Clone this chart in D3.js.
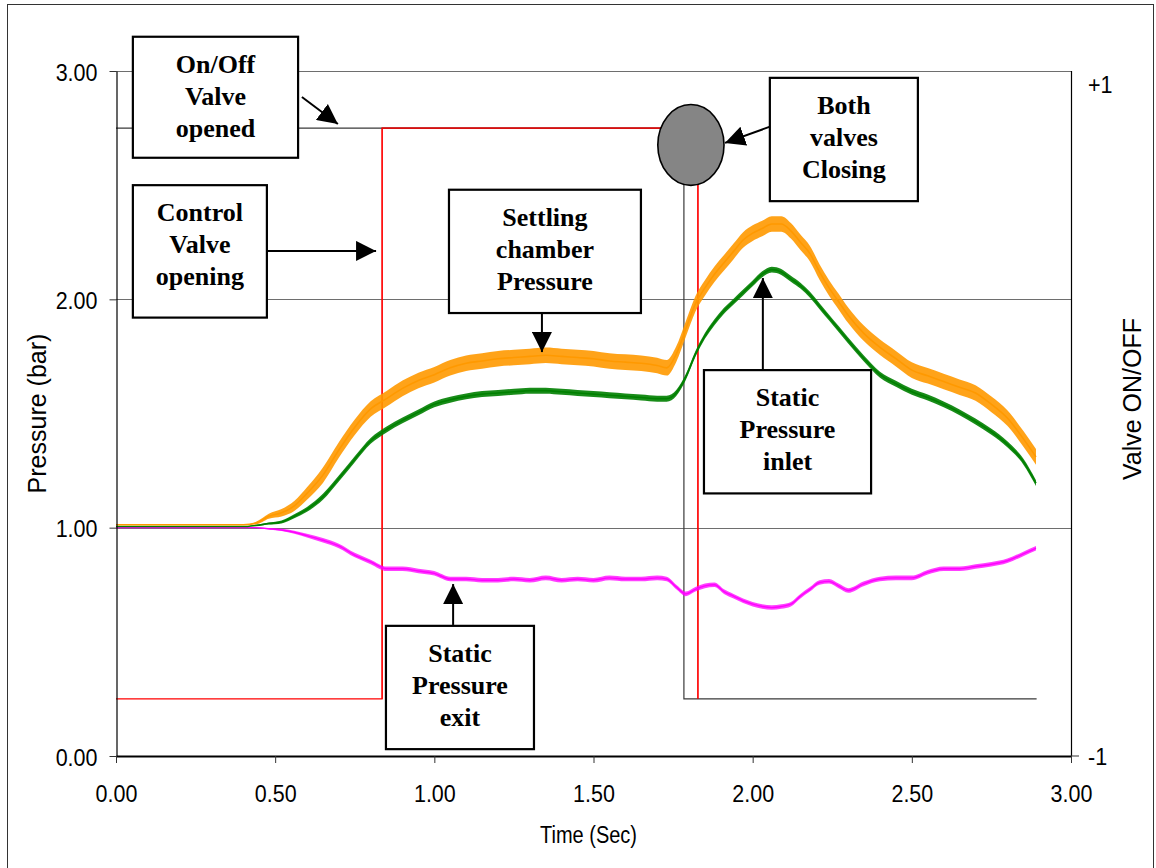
<!DOCTYPE html>
<html>
<head>
<meta charset="utf-8">
<script src="https://cdn.jsdelivr.net/npm/d3@7"></script>
<style>
  html, body { margin: 0; padding: 0; background: #fff; }
  svg { display: block; }
</style>
</head>
<body>
<svg id="chart" width="1156" height="868"></svg>
<script>
// Time base (s) shared by the three pressure traces
const TIME = [0, 0.10, 0.20, 0.30, 0.40, 0.44, 0.48, 0.52, 0.56, 0.60, 0.65, 0.70, 0.75, 0.80, 0.85,
  0.90, 0.95, 1.00, 1.05, 1.10, 1.15, 1.20, 1.25, 1.30, 1.35, 1.40, 1.45, 1.50, 1.55, 1.60, 1.65,
  1.70, 1.73, 1.76, 1.79, 1.82, 1.85, 1.88, 1.91, 1.94, 1.97, 2.00, 2.03, 2.06, 2.09, 2.12, 2.15,
  2.18, 2.21, 2.24, 2.27, 2.30, 2.35, 2.40, 2.45, 2.50, 2.55, 2.60, 2.65, 2.70, 2.75, 2.80, 2.85, 2.89];

// Settling chamber pressure (bar), orange
const SETTLING = [1.013, 1.013, 1.013, 1.013, 1.013, 1.02, 1.05, 1.065, 1.095, 1.15, 1.23, 1.34, 1.44, 1.52, 1.565,
  1.61, 1.645, 1.67, 1.70, 1.72, 1.73, 1.74, 1.745, 1.75, 1.755, 1.75, 1.745, 1.74, 1.73, 1.725, 1.72,
  1.71, 1.70, 1.76, 1.87, 1.98, 2.05, 2.11, 2.16, 2.21, 2.26, 2.29, 2.31, 2.33, 2.33, 2.30, 2.25,
  2.20, 2.12, 2.05, 1.99, 1.93, 1.85, 1.79, 1.74, 1.69, 1.665, 1.64, 1.615, 1.59, 1.54, 1.48, 1.39, 1.31];

// Static pressure inlet (bar), green
const INLET = [1.005, 1.005, 1.005, 1.005, 1.005, 1.01, 1.018, 1.025, 1.05, 1.08, 1.135, 1.215, 1.30, 1.38, 1.43,
  1.47, 1.505, 1.54, 1.56, 1.575, 1.585, 1.59, 1.595, 1.60, 1.60, 1.595, 1.59, 1.585, 1.58, 1.575, 1.57,
  1.565, 1.565, 1.59, 1.66, 1.76, 1.84, 1.90, 1.95, 1.99, 2.03, 2.07, 2.11, 2.13, 2.12, 2.09, 2.06,
  2.02, 1.97, 1.92, 1.87, 1.82, 1.74, 1.67, 1.63, 1.595, 1.57, 1.54, 1.505, 1.465, 1.42, 1.365, 1.29, 1.195];

// Static pressure exit (bar), magenta
const EXIT = [1.00, 1.00, 1.00, 1.00, 1.00, 1.00, 0.995, 0.99, 0.98, 0.965, 0.945, 0.92, 0.88, 0.85, 0.82,
  0.82, 0.81, 0.80, 0.775, 0.775, 0.77, 0.77, 0.775, 0.77, 0.78, 0.77, 0.775, 0.77, 0.78, 0.775, 0.775,
  0.78, 0.775, 0.74, 0.71, 0.73, 0.745, 0.75, 0.72, 0.70, 0.68, 0.665, 0.655, 0.65, 0.655, 0.665, 0.70,
  0.73, 0.76, 0.765, 0.745, 0.725, 0.755, 0.775, 0.78, 0.78, 0.805, 0.82, 0.82, 0.83, 0.84, 0.855, 0.885, 0.91];

// Valve signals on the secondary axis (+1 open, -1 closed)
const ONOFF_T = [0, 1.784, 1.784, 2.892];
const ONOFF_V = [1, 1, -1, -1];
const CONTROL_T = [0, 0.836, 0.836, 1.828, 1.828];
const CONTROL_V = [-1, -1, 1, 1, -1];

const X_TICKS = [0, 0.5, 1, 1.5, 2, 2.5, 3];
const Y_TICKS = [0, 1, 2, 3];
const Y2_LABELS = ['+1', '-1'];

// Annotation boxes in data units: [t0, t1, pTop, pBottom], lines of text
const NOTES = [
  { box: [0.053, 0.572, 3.15, 2.62], lines: ['On/Off', 'Valve', 'opened'] },
  { box: [0.053, 0.474, 2.50, 1.92], lines: ['Control', 'Valve', 'opening'] },
  { box: [1.046, 1.649, 2.48, 1.94], lines: ['Settling', 'chamber', 'Pressure'] },
  { box: [2.054, 2.519, 2.97, 2.43], lines: ['Both', 'valves', 'Closing'] },
  { box: [1.847, 2.372, 1.69, 1.15], lines: ['Static', 'Pressure', 'inlet'] },
  { box: [0.848, 1.313, 0.57, 0.03], lines: ['Static', 'Pressure', 'exit'] },
];
// Arrows in data units: [t0, p0, t1, p1]
const ARROWS = [
  [0.584, 2.886, 0.697, 2.768],
  [0.474, 2.212, 0.817, 2.212],
  [1.338, 1.940, 1.338, 1.769],
  [2.070, 2.764, 1.913, 2.685],
  [2.032, 1.686, 2.032, 2.093],
  [1.059, 0.574, 1.059, 0.753],
];
const CLOSING_MARK = { t: 1.806, p: 2.676, rt: 0.104, rp: 0.177 };

// ── Layout ──────────────────────────────────────────────────────────────────
const PLOT = { left: 116, right: 1071, top: 71, bottom: 756 };
const SANS = '"Liberation Sans", Arial, sans-serif';
const SERIF = '"Liberation Serif", "Times New Roman", serif';

const svg = d3.select('#chart');

const x = d3.scaleLinear().domain([0, 3]).range([PLOT.left, PLOT.right]);
const y = d3.scaleLinear().domain([0, 3]).range([PLOT.bottom, PLOT.top]);
const y2 = d3.scaleLinear().domain([-1.2, 1.2]).range([PLOT.bottom, PLOT.top]);

// outer frame
svg.append('rect')
  .attr('x', 7.5).attr('y', 4.5).attr('width', 1146).attr('height', 872)
  .attr('fill', 'none').attr('stroke', '#333').attr('stroke-width', 1);

// horizontal gridlines
svg.append('g').selectAll('line')
  .data(Y_TICKS.filter(d => d > 0))
  .join('line')
  .attr('x1', PLOT.left).attr('x2', PLOT.right)
  .attr('y1', d => Math.round(y(d)) + 0.5).attr('y2', d => Math.round(y(d)) + 0.5)
  .attr('stroke', '#6e6e6e').attr('stroke-width', 1);

// ── Valve signals ───────────────────────────────────────────────────────────
const stepLine = d3.line().x(d => x(d[0])).y(d => y2(d[1]));

svg.append('path')
  .datum(d3.zip(CONTROL_T, CONTROL_V))
  .attr('d', stepLine)
  .attr('fill', 'none').attr('stroke', '#ff0000').attr('stroke-width', 1.2);

svg.append('path')
  .datum(d3.zip(ONOFF_T, ONOFF_V))
  .attr('d', stepLine)
  .attr('fill', 'none').attr('stroke', '#3a3a3a').attr('stroke-width', 1.2);

// red segment is drawn again where it lies over the on/off line while high
svg.append('path')
  .datum(d3.zip(CONTROL_T, CONTROL_V).slice(1, 5))
  .attr('d', stepLine)
  .attr('fill', 'none').attr('stroke', '#ff0000').attr('stroke-width', 1.2);

// ── Pressure traces ─────────────────────────────────────────────────────────
const SERIES = [
  { values: EXIT, color: '#ff00ff', spread: 0.010, width: 1.4, opacity: 0.75 },
  { values: INLET, color: '#008000', spread: 0.013, width: 1.6, opacity: 0.9 },
  { values: SETTLING, color: '#ff9900', spread: 0.034, width: 1.6, opacity: 0.9 },
];

// noise only sets in once the flow starts
const ramp = t => (t < 0.44 ? 0 : Math.min(1, (t - 0.40) / 0.25));

SERIES.forEach(s => {
  const pts = TIME.map((t, i) => [t, s.values[i]]);
  const band = d3.area()
    .curve(d3.curveMonotoneX)
    .x(d => x(d[0]))
    .y0(d => y(d[1] - s.spread * ramp(d[0])))
    .y1(d => y(d[1] + s.spread * ramp(d[0])));
  svg.append('path')
    .datum(pts)
    .attr('d', band)
    .attr('fill', s.color).attr('fill-opacity', s.opacity);
  svg.append('path')
    .datum(pts)
    .attr('d', d3.line().curve(d3.curveMonotoneX).x(d => x(d[0])).y(d => y(d[1])))
    .attr('fill', 'none').attr('stroke', s.color).attr('stroke-width', s.width);
});

// ── Axes ────────────────────────────────────────────────────────────────────
const yAxisG = svg.append('g')
  .attr('transform', `translate(${PLOT.left + 0.5},0)`)
  .call(d3.axisLeft(y).tickValues(Y_TICKS).tickFormat(d3.format('.2f')).tickSize(7).tickSizeOuter(0));
yAxisG.select('.domain').attr('stroke', '#000').attr('stroke-width', 1.2);
yAxisG.selectAll('.tick line').attr('stroke', '#333');
yAxisG.selectAll('.tick text')
  .attr('x', null).attr('dy', null)
  .attr('text-anchor', 'end')
  .attr('transform', 'translate(-19,9) scale(1,1.15)')
  .style('font-family', SANS).style('font-size', '21.5px').attr('fill', '#000');

const xAxisG = svg.append('g')
  .attr('transform', `translate(0,${PLOT.bottom})`)
  .call(d3.axisBottom(x).tickValues(X_TICKS).tickFormat(d3.format('.2f')).tickSize(7).tickSizeOuter(0));
xAxisG.select('.domain').attr('stroke', '#000').attr('stroke-width', 2);
xAxisG.selectAll('.tick line').attr('stroke', '#333');
xAxisG.selectAll('.tick text')
  .attr('y', null).attr('dy', null)
  .attr('text-anchor', 'middle')
  .attr('transform', 'translate(0,46) scale(1,1.15)')
  .style('font-family', SANS).style('font-size', '21.5px').attr('fill', '#000');

// secondary axis
svg.append('line')
  .attr('x1', PLOT.right + 0.5).attr('x2', PLOT.right + 0.5)
  .attr('y1', PLOT.top).attr('y2', PLOT.bottom)
  .attr('stroke', '#000').attr('stroke-width', 1.2);
svg.append('line')
  .attr('x1', PLOT.right).attr('x2', PLOT.right + 8)
  .attr('y1', y2(-1.2)).attr('y2', y2(-1.2))
  .attr('stroke', '#333');
svg.append('g').selectAll('text')
  .data(Y2_LABELS)
  .join('text')
  .attr('transform', (d, i) => `translate(${PLOT.right + 17},${i === 0 ? y2(1.2) + 22 : y2(-1.2) + 9}) scale(1,1.15)`)
  .style('font-family', SANS).style('font-size', '21.5px')
  .text(d => d);

// axis titles
svg.append('text')
  .attr('transform', `translate(${(PLOT.left + PLOT.right) / 2 - 5},843) scale(1,1.15)`)
  .attr('text-anchor', 'middle')
  .style('font-family', SANS).style('font-size', '20px')
  .text('Time (Sec)');

svg.append('text')
  .attr('transform', `translate(46,${(PLOT.top + PLOT.bottom) / 2}) rotate(-90)`)
  .attr('text-anchor', 'middle')
  .style('font-family', SANS).style('font-size', '25px')
  .text('Pressure (bar)');

svg.append('text')
  .attr('transform', 'translate(1141,399) rotate(-90)')
  .attr('text-anchor', 'middle')
  .style('font-family', SANS).style('font-size', '25px')
  .text('Valve ON/OFF');

// ── Annotations ─────────────────────────────────────────────────────────────
svg.append('ellipse')
  .attr('cx', x(CLOSING_MARK.t)).attr('cy', y(CLOSING_MARK.p))
  .attr('rx', x(CLOSING_MARK.rt) - x(0)).attr('ry', y(0) - y(CLOSING_MARK.rp))
  .attr('fill', '#858585').attr('stroke', '#000').attr('stroke-width', 1.6);

svg.append('defs').append('marker')
  .attr('id', 'head')
  .attr('markerUnits', 'userSpaceOnUse')
  .attr('viewBox', '0 -10 20 20')
  .attr('refX', 20).attr('refY', 0)
  .attr('markerWidth', 20).attr('markerHeight', 20)
  .attr('orient', 'auto')
  .append('path').attr('d', 'M0,-10L20,0L0,10Z').attr('fill', '#000');

svg.append('g').selectAll('line')
  .data(ARROWS)
  .join('line')
  .attr('x1', d => x(d[0])).attr('y1', d => y(d[1]))
  .attr('x2', d => x(d[2])).attr('y2', d => y(d[3]))
  .attr('stroke', '#000').attr('stroke-width', 2)
  .attr('marker-end', 'url(#head)');

const notes = svg.append('g').selectAll('g')
  .data(NOTES)
  .join('g');

notes.append('rect')
  .attr('x', d => x(d.box[0])).attr('y', d => y(d.box[2]))
  .attr('width', d => x(d.box[1]) - x(d.box[0]))
  .attr('height', d => y(d.box[3]) - y(d.box[2]))
  .attr('fill', '#fff').attr('stroke', '#000').attr('stroke-width', 2.2);

notes.each(function(d) {
  const cx = (x(d.box[0]) + x(d.box[1])) / 2;
  const top = y(d.box[2]);
  d3.select(this).selectAll('text')
    .data(d.lines)
    .join('text')
    .attr('x', cx)
    .attr('y', (t, i) => top + 36 + i * 32)
    .attr('text-anchor', 'middle')
    .style('font-family', SERIF).style('font-size', '26px').style('font-weight', 'bold')
    .text(t => t);
});
</script>
</body>
</html>
